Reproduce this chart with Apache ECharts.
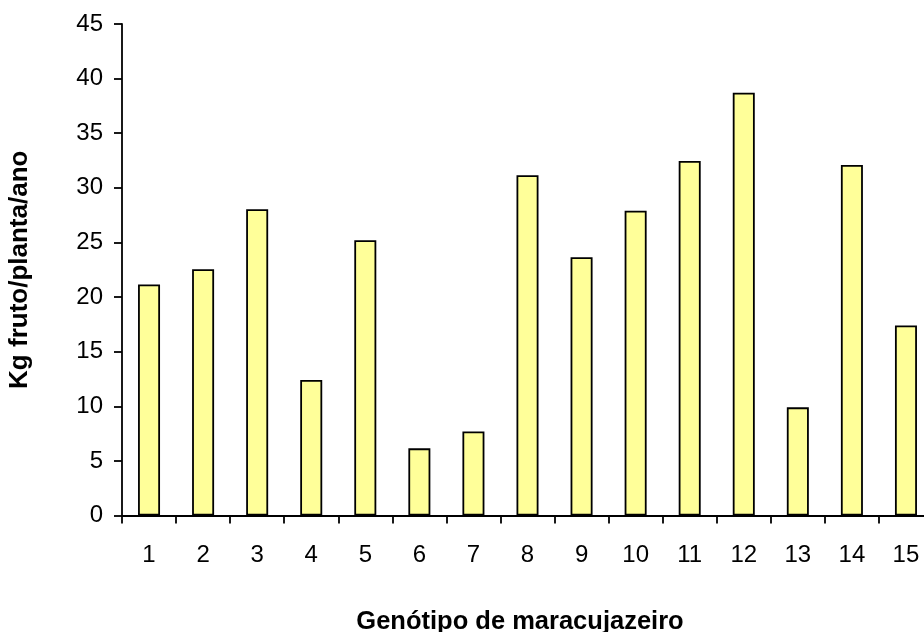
<!DOCTYPE html>
<html>
<head>
<meta charset="utf-8">
<script src="https://cdn.jsdelivr.net/npm/echarts@6/dist/echarts.min.js"></script>
<style>html,body{margin:0;padding:0;background:#fff;overflow:hidden}#c{width:924px;height:632px}</style>
</head>
<body>
<div id="c"></div>
<script>
const categories = ['1','2','3','4','5','6','7','8','9','10','11','12','13','14','15'];
const values = [21.15, 22.55, 28.05, 12.4, 25.2, 6.15, 7.7, 31.15, 23.65, 27.9, 32.45, 38.7, 9.9, 32.1, 17.4];
const yTicks = {min: 0, max: 45, interval: 5};
const xName = 'Genótipo de maracujazeiro';
const yName = 'Kg fruto/planta/ano';

const chart = echarts.init(document.getElementById('c'), null, {renderer: 'canvas'});
const font = '"Liberation Sans", Arial, sans-serif';
chart.setOption({
  animation: false,
  backgroundColor: '#ffffff',
  grid: {left: 122, right: -9, top: 24, bottom: 116.5, containLabel: false, outerBoundsMode: 'none'},
  xAxis: {
    type: 'category',
    data: categories,
    boundaryGap: true,
    name: xName,
    nameLocation: 'middle',
    nameGap: 93,
    nameTextStyle: {fontFamily: font, fontWeight: 'bold', fontSize: 25.5, color: '#000', padding: [0, 15, 0, 0]},
    axisLine: {lineStyle: {color: '#000', width: 1.8}},
    axisTick: {show: true, inside: false, length: 8, alignWithLabel: false, lineStyle: {color: '#000', width: 1.8}},
    axisLabel: {fontFamily: font, fontSize: 24, color: '#000', margin: 28, interval: 0},
    splitLine: {show: false}
  },
  yAxis: {
    type: 'value',
    min: yTicks.min, max: yTicks.max, interval: yTicks.interval,
    name: yName,
    nameLocation: 'middle',
    nameGap: 89,
    nameRotate: 90,
    nameTextStyle: {fontFamily: font, fontWeight: 'bold', fontSize: 26, color: '#000'},
    axisLine: {show: true, lineStyle: {color: '#000', width: 1.8}},
    axisTick: {show: true, inside: false, length: 8, lineStyle: {color: '#000', width: 1.8}},
    axisLabel: {fontFamily: font, fontSize: 24, color: '#000', margin: 19},
    splitLine: {show: false}
  },
  series: [{
    type: 'bar',
    data: values,
    barWidth: 22,
    itemStyle: {color: '#FFFF99', borderColor: '#000', borderWidth: 1.8},
    silent: true
  }]
});
</script>
</body>
</html>
